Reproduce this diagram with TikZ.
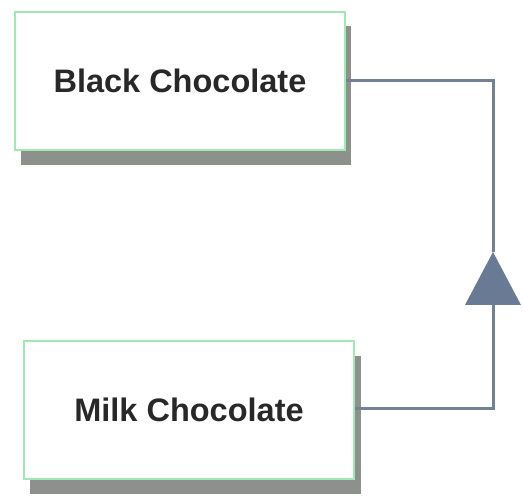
\documentclass[tikz,border=0pt]{standalone}
\usepackage{fontspec}
\setmainfont{Liberation Sans}
\begin{document}
\begin{tikzpicture}[x=1pt,y=-1pt,
  cls/.style={draw=boxgreen, line width=2.5pt, fill=white, minimum width=330pt, minimum height=138pt,
    font=\bfseries\fontsize{32.5}{38}\selectfont, text=textgray, inner sep=0pt},
  conn/.style={draw=linegray, line width=3pt}]
\definecolor{boxgreen}{RGB}{160,232,180}
\definecolor{shadowgray}{RGB}{140,145,140}
\definecolor{textgray}{RGB}{40,40,40}
\definecolor{linegray}{RGB}{115,128,150}
\definecolor{trifill}{RGB}{105,122,148}
\useasboundingbox (0,0) rectangle (523,500);
\fill[white] (0,0) rectangle (523,500);
% shadows
\fill[shadowgray] (21,26) rectangle (351,165);
\fill[shadowgray] (30,356) rectangle (361,494);
\node[cls] (black) at (180,81) {Black Chocolate};
\node[cls] (milk) at (189,410) {Milk Chocolate};
\coordinate (apex) at (493,252);
\coordinate (base) at (493,305);
\draw[conn] (black.east |- 0,81) -- (493,81) -- (apex);
\draw[conn] (milk.east |- 0,408) -- (493,408) -- (base);
\fill[trifill] (apex) -- (465,305) -- (521,305) -- cycle;
\end{tikzpicture}
\end{document}
